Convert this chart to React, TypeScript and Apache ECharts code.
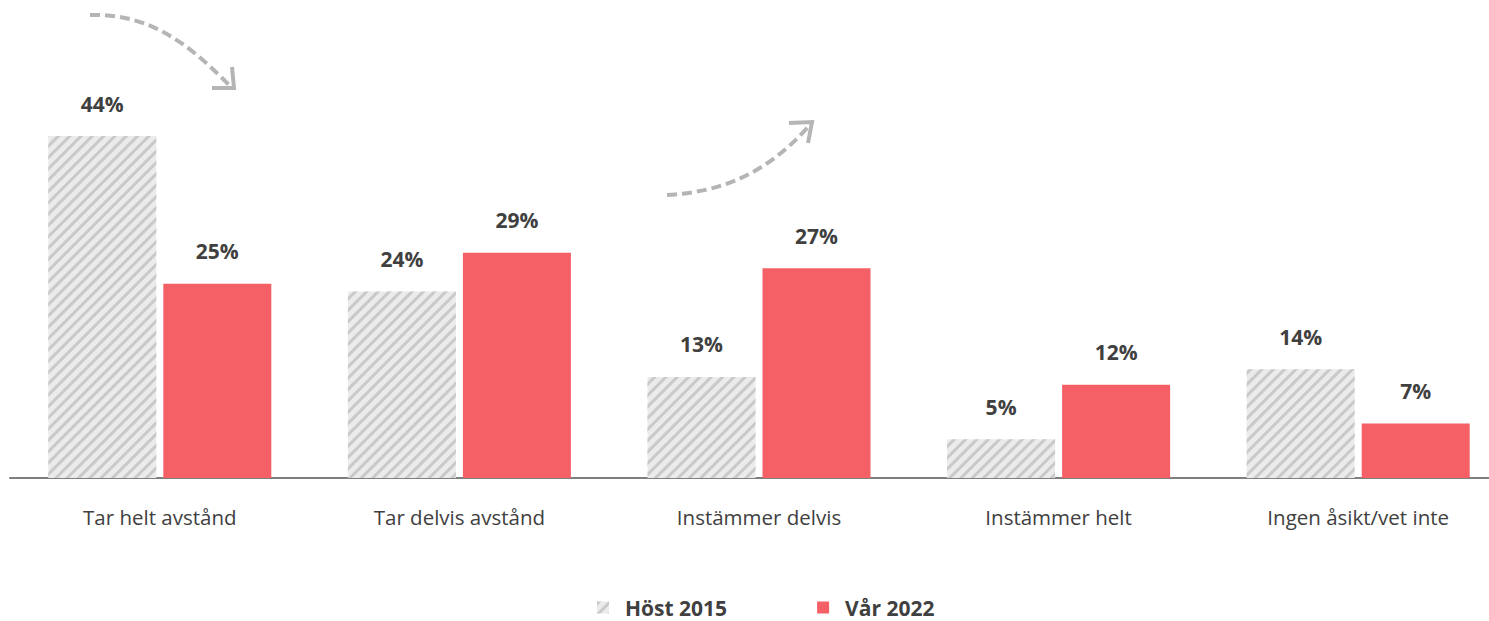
import React, { useEffect, useRef } from "react";
import * as echarts from "echarts";

const categories = [
  "Tar helt avstånd",
  "Tar delvis avstånd",
  "Instämmer delvis",
  "Instämmer helt",
  "Ingen åsikt/vet inte",
];
const host2015 = [44, 24, 13, 5, 14];
const var2022 = [25, 29, 27, 12, 7];
const seriesNames = ["Höst 2015", "Vår 2022"];

const FONT = "'Open Sans', 'Noto Sans', sans-serif";
const TEXT = "#404040";
const RED = "#F46066";
const ARROW = "#b5b5b5";

export default function App() {
  const ref = useRef<HTMLDivElement>(null);
  useEffect(() => {
    if (!ref.current) return;
    const chart = echarts.init(ref.current, undefined, { renderer: "svg" });
    const decal = {
      symbol: "rect",
      symbolSize: 1,
      dashArrayX: [1, 0],
      dashArrayY: [3, 5],
      rotation: -Math.PI / 4,
      color: "#c9c9c9",
    };
    const labelStyle = {
      show: true,
      position: "top" as const,
      distance: 22,
      formatter: "{c}%",
      color: TEXT,
      fontFamily: FONT,
      fontWeight: "bold" as const,
      fontSize: 21,
    };
    chart.setOption({
      animation: false,
      textStyle: { fontFamily: FONT },
      grid: {
        left: 10,
        top: 89.5,
        width: 1498,
        height: 388.5,
        containLabel: false,
        outerBoundsMode: "none",
      },
      xAxis: {
        type: "category",
        data: categories,
        axisLine: { lineStyle: { color: "#7f7f7f", width: 2 } },
        axisTick: { show: false },
        axisLabel: { color: TEXT, fontSize: 20.5, fontFamily: FONT, margin: 28 },
      },
      yAxis: {
        type: "value",
        min: 0,
        max: 50,
        show: false,
        splitLine: { show: false },
      },
      legend: {
        left: 597,
        top: 597,
        padding: 0,
        itemWidth: 12,
        itemHeight: 12,
        itemGap: 90,
        icon: "rect",
        textStyle: {
          color: TEXT,
          fontFamily: FONT,
          fontWeight: "bold",
          fontSize: 21,
          padding: [0, 0, 0, 11],
        },
        data: seriesNames,
      },
      series: [
        {
          name: seriesNames[0],
          type: "bar",
          data: host2015,
          barWidth: 108,
          barGap: "6.5%",
          itemStyle: { color: "#ebebeb", decal },
          label: labelStyle,
        },
        {
          name: seriesNames[1],
          type: "bar",
          data: var2022,
          barWidth: 108,
          itemStyle: { color: RED },
          label: labelStyle,
        },
      ],
      graphic: [
        {
          type: "bezierCurve",
          shape: { x1: 90, y1: 15, cpx1: 150, cpy1: 13, cpx2: 190, cpy2: 45, x2: 230, y2: 86 },
          style: { stroke: ARROW, lineWidth: 4, lineDash: [10, 5], fill: null },
        },
        {
          type: "polyline",
          shape: { points: [[212, 88], [234, 88], [232, 67]] },
          style: { stroke: ARROW, lineWidth: 4, fill: null },
        },
        {
          type: "bezierCurve",
          shape: { x1: 667, y1: 195, cpx1: 720, cpy1: 192, cpx2: 765, cpy2: 175, x2: 808, y2: 127 },
          style: { stroke: ARROW, lineWidth: 4, lineDash: [10, 5], fill: null },
        },
        {
          type: "polyline",
          shape: { points: [[789, 123], [812, 122], [808, 143]] },
          style: { stroke: ARROW, lineWidth: 4, fill: null },
        },
      ],
    });
    return () => chart.dispose();
  }, []);
  return (
    <div
      ref={ref}
      style={{ position: "fixed", left: 0, top: 0, width: 1489, height: 621, background: "#fff" }}
    />
  );
}
